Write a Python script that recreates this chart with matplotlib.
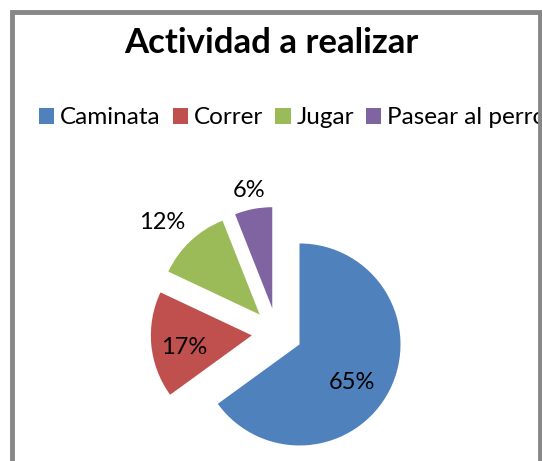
import numpy as np
import matplotlib
matplotlib.use("Agg")
import matplotlib.pyplot as plt
from matplotlib.patches import Rectangle, Patch

title = "Actividad a realizar"
categories = ["Caminata", "Correr", "Jugar", "Pasear al perro"]
values = [65, 17, 12, 6]
pct_labels = ["65%", "17%", "12%", "6%"]
colors = ["#4F81BD", "#C0504D", "#9BBB59", "#8064A2"]
label_dist = [0.63, 0.68, 1.34, 1.21]
label_rot = [-7, 3, 3, 0]

W, H = 542, 461
fig = plt.figure(figsize=(W / 100, H / 100), dpi=100)
fig.patch.set_facecolor("white")
plt.rcParams["font.family"] = ["Lato", "DejaVu Sans"]

# pie axes, 1 data unit = 101 px, centre at (277, 333) px from top-left
R = 101.0
ax_l, ax_r, ax_t, ax_b = 100, 480, 160, 455
cx, cy = 277, 333
ax = fig.add_axes([ax_l / W, (H - ax_b) / H, (ax_r - ax_l) / W, (ax_b - ax_t) / H])

wedges, _ = ax.pie(values, colors=colors, startangle=90, counterclock=False,
                   explode=[0.25] * len(values), radius=1.0,
                   wedgeprops=dict(linewidth=0))
ax.set_aspect("auto")
ax.set_xlim(-(cx - ax_l) / R, (ax_r - cx) / R)
ax.set_ylim(-(ax_b - cy) / R, (cy - ax_t) / R)
ax.axis("off")

for w, lab, d, rot in zip(wedges, pct_labels, label_dist, label_rot):
    th = np.deg2rad((w.theta1 + w.theta2) / 2 + rot)
    x0, y0 = w.center
    ax.text(x0 + d * w.r * np.cos(th), y0 + d * w.r * np.sin(th), lab,
            ha="center", va="center_baseline", fontsize=17, color="black")

fig.text(271 / W, 1 - 53 / H, title, ha="center", va="baseline",
         fontsize=25, fontweight="bold", color="black")

handles = [Patch(facecolor=c, edgecolor="none") for c in colors]
fig.legend(handles, categories, loc="center left",
           bbox_to_anchor=(39 / W, 1 - 118 / H), ncol=4, frameon=False,
           fontsize=17.5, handlelength=0.62, handleheight=0.62,
           handletextpad=0.25, columnspacing=0.5, borderaxespad=0,
           borderpad=0)

border = Rectangle((12.3 / W, -0.1), (540 - 12.3) / W, 1.1 - 12.3 / H,
                   transform=fig.transFigure, fill=False,
                   edgecolor="#878787", linewidth=3.5, zorder=10)
fig.patches.append(border)

fig.savefig("out.png", dpi=100, facecolor="white")
